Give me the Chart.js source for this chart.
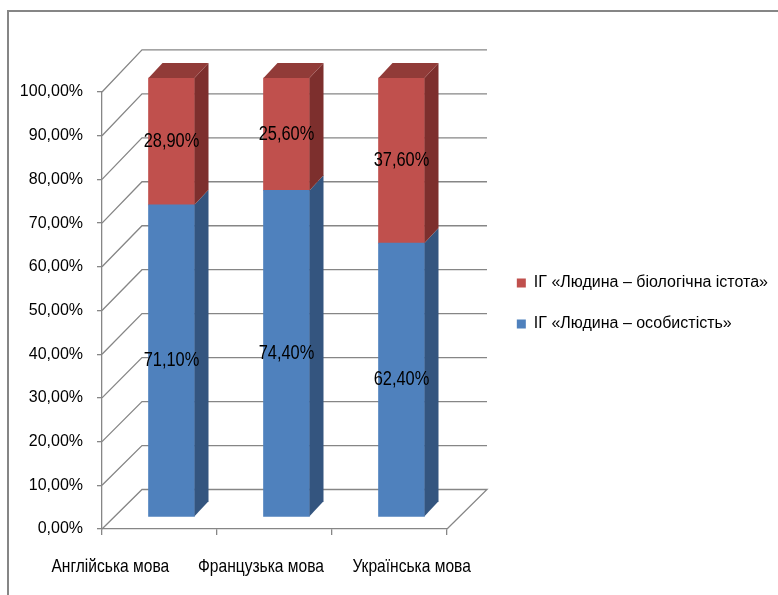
<!DOCTYPE html>
<html>
<head>
<meta charset="utf-8">
<script src="https://cdn.jsdelivr.net/npm/chart.js@4.4.1/dist/chart.umd.min.js"></script>
<style>
html, body { margin: 0; padding: 0; background: #fff; }
canvas { display: block; }
</style>
</head>
<body>
<canvas id="myChart" width="778" height="595"></canvas>
<script>
var categories = ['Англійська мова', 'Французька мова', 'Українська мова'];
var personValues = [71.1, 74.4, 62.4];   // ІГ «Людина – особистість»
var bioValues = [28.9, 25.6, 37.6];      // ІГ «Людина – біологічна істота»
var seriesNames = ['ІГ «Людина – особистість»', 'ІГ «Людина – біологічна істота»'];
var yTickLabels = ['0,00%', '10,00%', '20,00%', '30,00%', '40,00%', '50,00%',
                   '60,00%', '70,00%', '80,00%', '90,00%', '100,00%'];

var FONT = "'Liberation Sans', Arial, sans-serif";
var GRID = '#868686';
var LEGEND_SIZE = 16;
var CHART_RIGHT = 447;
var NARROW = 0.82; // squeeze for hand drawn texts (original uses a narrow face)

function pct(v) { return v.toFixed(2).replace('.', ',') + '%'; }

// width the legend needs, so a blank right axis can push the plot to CHART_RIGHT
var mctx = document.createElement('canvas').getContext('2d');
mctx.font = LEGEND_SIZE + 'px ' + FONT;
var textW = Math.max.apply(null, seriesNames.map(function (s) { return mctx.measureText(s).width; }));
var legendW = 25 + 9 + LEGEND_SIZE / 2 + textW + 10;
var spacer = Math.max(0, 778 - CHART_RIGHT - legendW);

function narrowText(ctx, txt, x, y) {
    ctx.save();
    ctx.translate(x, y);
    ctx.scale(NARROW, 1);
    ctx.fillText(txt, 0, 0);
    ctx.restore();
}

// bars sit a little behind the front plane
function barPlane(ctx, area) {
    var k = 1.0046;
    ctx.transform(1, 0, 0, k, 12, area.bottom - 12 - area.bottom * k);
}

var fake3d = {
    id: 'fake3d',
    beforeDraw: function (chart) {
        var ctx = chart.ctx;
        ctx.save();
        ctx.strokeStyle = GRID;
        ctx.lineWidth = 2;
        ctx.strokeRect(8, 11, 900, 800);
        ctx.restore();
    },
    afterLayout: function (chart) {
        chart.legend.top -= 7;
        chart.legend.bottom -= 7;
    },
    beforeDatasetsDraw: function (chart) {
        var ctx = chart.ctx, a = chart.chartArea, y = chart.scales.y;
        var backY = function (fy) { return a.bottom - 39.5 + (fy - a.bottom) * 1.006; };
        ctx.save();
        ctx.strokeStyle = GRID;
        ctx.lineWidth = 1.3;
        y.ticks.forEach(function (t) {
            var fy = y.getPixelForValue(t.value), by = backY(fy);
            ctx.beginPath();
            ctx.moveTo(a.left, fy);
            ctx.lineTo(a.left + 40, by);
            ctx.lineTo(a.right + 40, by);
            if (t.value === 0) {
                ctx.lineTo(a.right, fy);
            }
            ctx.stroke();
        });
        ctx.restore();

        ctx.save();
        barPlane(ctx, a);
    },
    afterDatasetsDraw: function (chart) {
        var ctx = chart.ctx;
        var sides = ['#34557F', '#7D2F2D'];
        var tops = ['#3F6897', '#913B38'];
        var dx = 14, dy = 15;
        chart.data.datasets.forEach(function (ds, di) {
            chart.getDatasetMeta(di).data.forEach(function (bar) {
                var xl = bar.x - bar.width / 2, xr = bar.x + bar.width / 2;
                ctx.fillStyle = sides[di];
                ctx.beginPath();
                ctx.moveTo(xr, bar.y);
                ctx.lineTo(xr + dx, bar.y - dy);
                ctx.lineTo(xr + dx, bar.base - dy);
                ctx.lineTo(xr, bar.base);
                ctx.closePath();
                ctx.fill();
                if (di === chart.data.datasets.length - 1) {
                    ctx.fillStyle = tops[di];
                    ctx.beginPath();
                    ctx.moveTo(xl, bar.y);
                    ctx.lineTo(xl + dx, bar.y - dy);
                    ctx.lineTo(xr + dx, bar.y - dy);
                    ctx.lineTo(xr, bar.y);
                    ctx.closePath();
                    ctx.fill();
                }
            });
        });
        // data labels
        ctx.fillStyle = '#000';
        ctx.font = '20px ' + FONT;
        ctx.textAlign = 'center';
        ctx.textBaseline = 'middle';
        chart.data.datasets.forEach(function (ds, di) {
            chart.getDatasetMeta(di).data.forEach(function (bar, i) {
                narrowText(ctx, pct(ds.data[i]), bar.x, (bar.y + bar.base) / 2);
            });
        });
        ctx.restore();
    },
    afterDraw: function (chart) {
        // category labels, spread wider than the columns like the original
        var ctx = chart.ctx, a = chart.chartArea, x = chart.scales.x;
        ctx.save();
        ctx.fillStyle = '#000';
        ctx.font = '19px ' + FONT;
        ctx.textAlign = 'center';
        ctx.textBaseline = 'middle';
        categories.forEach(function (c, i) {
            var px = x.getPixelForValue(i);
            narrowText(ctx, c, a.left + (px - a.left) * 1.31 - 67, a.bottom + 38);
        });
        ctx.restore();
    }
};

var ctx = document.getElementById('myChart').getContext('2d');
var myChart = new Chart(ctx, {
    type: 'bar',
    data: {
        labels: categories,
        datasets: [{
            label: seriesNames[0],
            data: personValues,
            backgroundColor: '#4F81BD',
            barThickness: 46,
            clip: false
        }, {
            label: seriesNames[1],
            data: bioValues,
            backgroundColor: '#C0504D',
            barThickness: 46,
            clip: false
        }]
    },
    options: {
        responsive: false,
        animation: false,
        devicePixelRatio: 1,
        layout: { padding: { top: 92, left: 0, right: 0, bottom: 0 } },
        plugins: {
            legend: {
                position: 'right',
                fullSize: false,
                reverse: true,
                maxWidth: 400,
                labels: {
                    boxWidth: 9,
                    boxHeight: 9,
                    padding: 25,
                    color: '#000',
                    font: { family: FONT, size: LEGEND_SIZE }
                }
            },
            tooltip: { enabled: false }
        },
        scales: {
            x: {
                stacked: true,
                offset: true,
                grid: { offset: true, drawOnChartArea: false, tickLength: 6, color: GRID, lineWidth: 1.3 },
                border: { color: GRID, width: 1.3 },
                ticks: { display: false },
                afterFit: function (s) { s.height = 66; }
            },
            y: {
                stacked: true,
                min: 0,
                max: 100,
                grid: { drawOnChartArea: false, tickLength: 5, color: GRID, lineWidth: 1.3 },
                border: { color: GRID, width: 1.3 },
                ticks: {
                    stepSize: 10,
                    padding: 14,
                    color: '#000',
                    font: { family: FONT, size: 16 },
                    callback: function (v, i) { return yTickLabels[i]; }
                },
                afterFit: function (s) { s.width = 102; }
            },
            yR: {
                position: 'right',
                grid: { display: false },
                border: { display: false },
                ticks: { display: false },
                afterFit: function (s) { s.width = spacer; }
            }
        }
    },
    plugins: [fake3d]
});
</script>
</body>
</html>
